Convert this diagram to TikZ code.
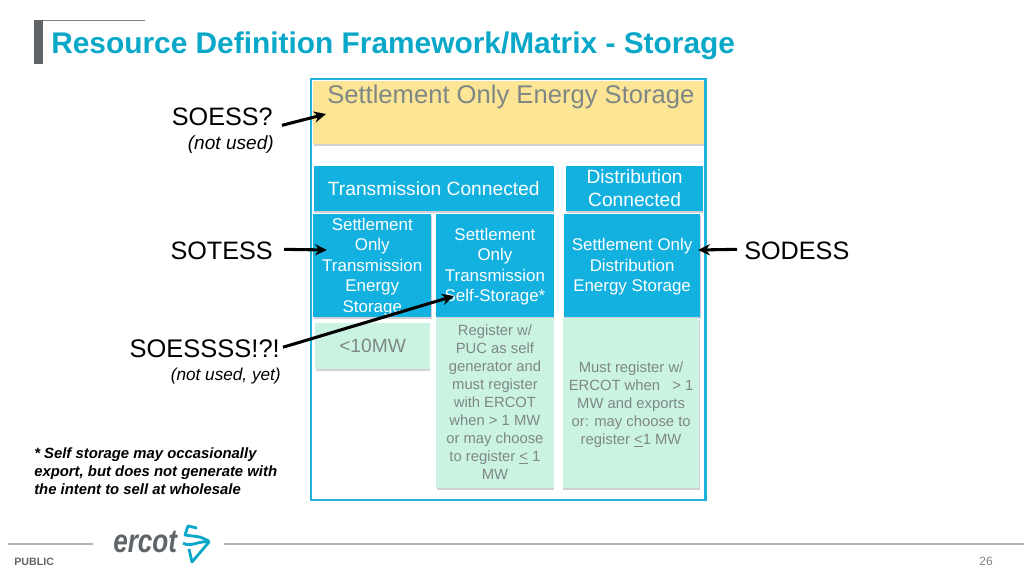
\documentclass[tikz,border=0pt]{standalone}
\usepackage{fontspec}
\setmainfont{Liberation Sans}
\usepackage{xcolor}
\usepackage{graphicx}
\usetikzlibrary{shadows,arrows.meta}
\definecolor{ercotteal}{HTML}{0AA8C8}
\definecolor{framecyan}{HTML}{1FB2DA}
\definecolor{boxcyan}{HTML}{12B1E0}
\definecolor{boxyellow}{HTML}{FDE596}
\definecolor{boxgreen}{HTML}{CBF3E2}
\definecolor{softgray}{HTML}{7F8785}
\definecolor{logogray}{HTML}{5F6468}
\newcommand{\fsize}[2]{\fontsize{#1}{#2}\selectfont}
\newcommand{\lowerline}{\rule{0pt}{10.9pt}} % taller first line, text sits lower
\tikzset{
  panel/.style={anchor=north west, inner sep=0pt, align=center,
    drop shadow={shadow xshift=0.4pt, shadow yshift=-1.6pt, fill=black!40, opacity=0.45}},
  bluebox/.style={panel, fill=boxcyan, text=white},
  greenbox/.style={panel, fill=boxgreen, text=softgray, font=\fsize{11.1}{13.5}},
  callout/.style={inner sep=0pt, text=black, font=\fsize{18.9}{22}},
  subnote/.style={inner sep=0pt, text=black, font=\fsize{14.3}{17}\itshape},
  pointer/.style={line width=2.3pt, -{Stealth[length=9pt,width=8.5pt]}},
  logostroke/.style={ercotteal, line width=2.1pt, line join=round}
}
\begin{document}
\begin{tikzpicture}[x=0.75pt, y=-0.75pt]
\useasboundingbox (0,0) rectangle (1024,576);

% title bar
\fill[logogray] (34,20) rectangle (43,64);
\draw[gray, line width=0.6pt] (43,20.5) -- (145,20.5);
\node (title) [anchor=base west, inner sep=0pt, text=ercotteal] at (51,53.5)
  {\fsize{22.4}{26}\bfseries Resource Definition Framework/Matrix - Storage};

% outer frame
\draw[framecyan, line width=2.2pt] (311,79) rectangle (705.5,500);

% top row
\node (soes) [panel, fill=boxyellow, minimum width=293pt, minimum height=47pt] at (313,81) {};
\node (soestext) [anchor=base west, inner sep=0pt, text=softgray] at (327,103)
  {\fsize{19.2}{23}Settlement Only Energy Storage};

% headers
\node (trans) [bluebox, minimum width=180pt, minimum height=33.5pt, font=\fsize{14.4}{17.25}] at (313.5,166)
  {Transmission Connected};
\node (dist) [bluebox, minimum width=102.5pt, minimum height=33.5pt, font=\fsize{14.4}{17.25}] at (566,166)
  {Distribution\\Connected};

% resource types
\node (sotess) [bluebox, minimum width=88.5pt, minimum height=77pt, font=\fsize{12.7}{15.4}] at (313,214)
  {\lowerline Settlement\\Only\\Transmission\\Energy\\Storage};
\node (sotss) [bluebox, minimum width=88pt, minimum height=77pt, font=\fsize{12.7}{15.4}] at (436,214)
  {\lowerline Settlement\\Only\\Transmission\\Self-Storage*};
\node (sodess) [bluebox, minimum width=102.5pt, minimum height=77pt, font=\fsize{12.7}{15.4}] at (563.5,214)
  {\lowerline Settlement Only\\Distribution\\Energy Storage};

% registration rules
\node (small) [panel, fill=boxgreen, text=softgray, minimum width=86pt, minimum height=34.5pt, font=\fsize{14.4}{17}] at (315,323)
  {<10MW};
\node (selfrule) [greenbox, minimum width=88pt, minimum height=127pt] at (436,318)
  {Register w/\\PUC as self\\generator and\\must register\\with ERCOT\\when > 1 MW\\or may choose\\to register \underline{<} 1\\MW\rule[-1.5pt]{0pt}{0pt}};
\node (distrule) [greenbox, minimum width=102.5pt, minimum height=127pt] at (562.5,318)
  {\rule{0pt}{11pt}Must register w/\\ERCOT when \ \ > 1\\MW and exports\\or: may choose to\\register \underline{<}1 MW};

% labels
\node (soesslab) [callout, anchor=base east] at (273,125) {SOESS?};
\node (soessnote) [subnote, anchor=base east] at (274,149) {(not used)};
\node (sotesslab) [callout, anchor=base east] at (273,259) {SOTESS};
\node (sodesslab) [callout, anchor=base west] at (744,259) {SODESS};
\node (sssslab) [callout, anchor=base east, font=\fsize{19.1}{22}] at (280,357) {SOESSSS!?!};
\node (ssssnote) [subnote, anchor=base east, font=\fsize{12.9}{15}\itshape] at (281,380) {(not used, yet)};
\node (footnote) [anchor=north west, inner sep=0pt, align=left, font=\fsize{11.15}{13.5}\bfseries\itshape] at (34,447.5)
  {* Self storage may occasionally\\export, but does not generate with\\the intent to sell at wholesale};

% arrows
\coordinate (soestip) at (326,114);
\coordinate (sotesstip) at (327,250);
\coordinate (sodesstip) at (698,250);
\coordinate (selftip) at (454,296);
\draw[pointer] (soesslab.east) ++(9,9) -- (soestip);
\draw[pointer] (sotesslab.east) ++(11,-1) -- (sotesstip);
\draw[pointer] (sodesslab.west) ++(-7,-1) -- (sodesstip);
\draw[pointer] (sssslab.east) ++(3,-1) -- (selftip);

% footer
\draw[black!30, line width=1.3pt] (8,544) -- (93,544);
\draw[black!30, line width=1.3pt] (224,544) -- (1024,544);
\node (public) [anchor=base west, inner sep=0pt, text=logogray] at (14,565) {\fsize{8}{10}\bfseries PUBLIC};
\node (pagenum) [anchor=base east, inner sep=0pt, text=black!50] at (993,565) {\fsize{9}{11}26};
\node (logotext) [anchor=base west, inner sep=0pt, text=logogray] at (113,552)
  {\scalebox{0.8}[1]{\fsize{24.5}{28}\bfseries\itshape ercot}};
\draw[logostroke] (197,528) -- (188,526) -- (185,535) -- (200,537) -- (209,541);
\draw[logostroke] (183,543) .. controls (190,548) and (200,540) .. (209,542) -- (192,562) -- (189,549);
\end{tikzpicture}
\end{document}
